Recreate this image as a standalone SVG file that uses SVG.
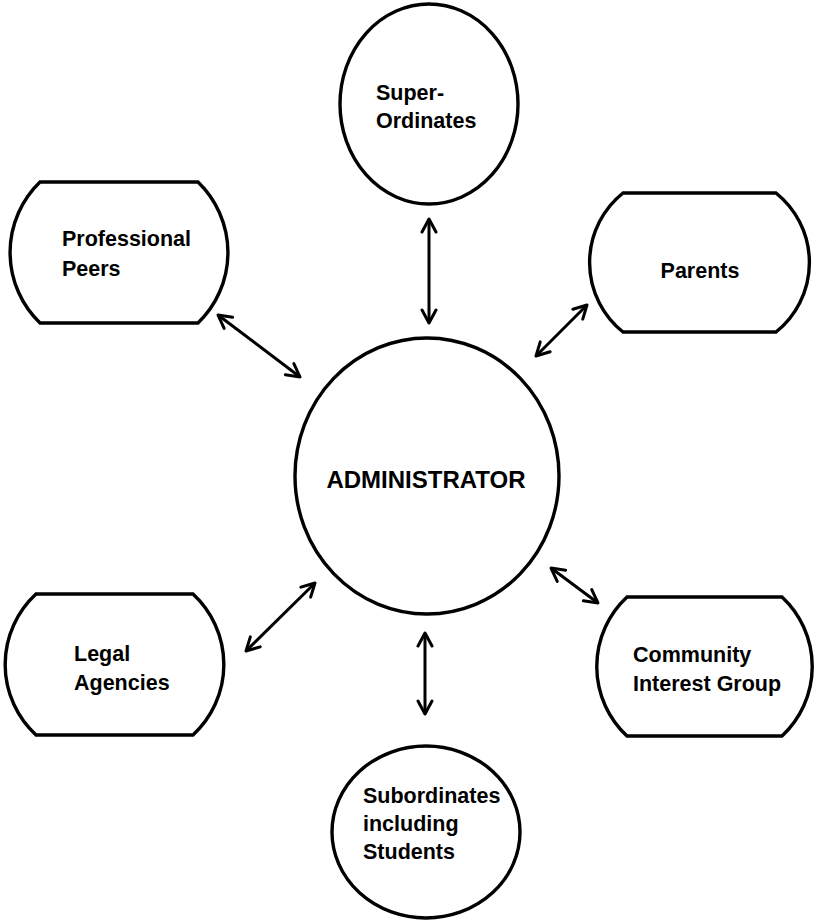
<svg xmlns="http://www.w3.org/2000/svg" width="819" height="922" viewBox="0 0 819 922">
  <defs>
    <style>
      .shape { fill: #ffffff; stroke: #000000; stroke-width: 3.4; }
      .label { font-family: "Liberation Sans", Arial, Helvetica, sans-serif; font-weight: bold; font-size: 21.5px; fill: #000000; }
      .center { text-anchor: middle; }
      .link { stroke: #000000; stroke-width: 3; fill: none; marker-start: url(#head); marker-end: url(#head); }
    </style>
    <!-- open chevron arrowhead, reused at both ends of each connector -->
    <marker id="head" viewBox="0 0 18 18" refX="15" refY="9" markerWidth="18" markerHeight="18" markerUnits="userSpaceOnUse" orient="auto-start-reverse">
      <path d="M2,2 L15,9 L2,16" fill="none" stroke="#000000" stroke-width="3" stroke-linecap="round" stroke-linejoin="round"/>
    </marker>
  </defs>

  <rect width="819" height="922" fill="#ffffff"/>

  <!-- connectors: two-way links between the administrator and each group -->
  <g id="connectors">
    <line class="link" x1="429" y1="219" x2="429" y2="323"/>
    <line class="link" x1="218" y1="315" x2="300" y2="377"/>
    <line class="link" x1="587" y1="305" x2="536" y2="356"/>
    <line class="link" x1="246" y1="651" x2="315" y2="583"/>
    <line class="link" x1="551" y1="568" x2="598" y2="603"/>
    <line class="link" x1="425" y1="633" x2="425" y2="714"/>
  </g>

  <g id="superordinates">
    <ellipse class="shape" cx="429" cy="104" rx="89" ry="100"/>
    <text class="label" x="376" y="100">Super-</text>
    <text class="label" x="376" y="128">Ordinates</text>
  </g>

  <g id="professional-peers">
    <path class="shape" d="M40,182 L198,182 A98,98 0 0 1 198,323 L40,323 A98,98 0 0 1 40,182 Z"/>
    <text class="label" x="62" y="246">Professional</text>
    <text class="label" x="62" y="276">Peers</text>
  </g>

  <g id="parents">
    <path class="shape" d="M623,193 L776,193 A89,89 0 0 1 776,332 L623,332 A89,89 0 0 1 623,193 Z"/>
    <text class="label center" x="700" y="278">Parents</text>
  </g>

  <g id="administrator">
    <ellipse class="shape" cx="427" cy="476" rx="132" ry="138"/>
    <text class="label center" x="426" y="488" style="font-size:24px">ADMINISTRATOR</text>
  </g>

  <g id="legal-agencies">
    <path class="shape" d="M36,594 L193,594 A96,96 0 0 1 193,735 L36,735 A96,96 0 0 1 36,594 Z"/>
    <text class="label" x="74" y="661">Legal</text>
    <text class="label" x="74" y="690">Agencies</text>
  </g>

  <g id="community-interest-group">
    <path class="shape" d="M627,597 L782,597 A95,95 0 0 1 782,736 L627,736 A95,95 0 0 1 627,597 Z"/>
    <text class="label" x="633" y="662">Community</text>
    <text class="label" x="633" y="691">Interest Group</text>
  </g>

  <g id="subordinates">
    <ellipse class="shape" cx="426" cy="832" rx="94" ry="86"/>
    <text class="label" x="363" y="803">Subordinates</text>
    <text class="label" x="363" y="831">including</text>
    <text class="label" x="363" y="859">Students</text>
  </g>
</svg>
